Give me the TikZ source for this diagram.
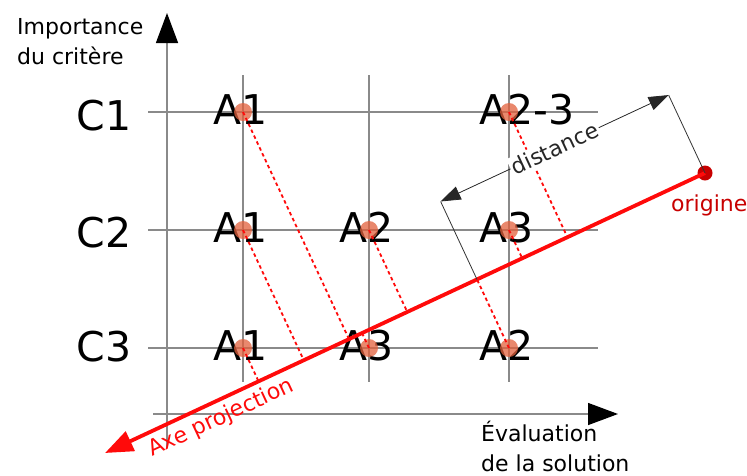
\documentclass[tikz,border=0pt]{standalone}
\usepackage{fontspec}
\setmainfont{DejaVu Sans}
\usetikzlibrary{arrows.meta, calc}
\definecolor{gridgray}{HTML}{8A8A8A}
\definecolor{axered}{HTML}{FF0A0A}
\definecolor{origred}{HTML}{C80000}
\definecolor{ptorange}{HTML}{E2603C}

\begin{document}
\begin{tikzpicture}[
    x=1pt, y=-1pt,
    big/.style={font=\fontsize{41}{41}\selectfont, inner sep=0pt},
    small/.style={font=\fontsize{22}{30}\selectfont, inner sep=0pt, align=left},
    gridline/.style={gridgray, line width=1.2pt},
    axarr/.style={gridgray, line width=1.4pt, -{Triangle[length=30pt, width=22pt, color=black]}},
    dot/.style={circle, fill=ptorange, fill opacity=0.75, minimum size=18pt, inner sep=0pt},
    odot/.style={circle, fill=origred, minimum size=15pt, inner sep=0pt},
    proj/.style={axered, line width=1.8pt, dash pattern=on 3.5pt off 3pt},
    projaxis/.style={axered, line width=3.8pt, -{Triangle[length=28pt, width=21pt]}},
    ext/.style={black!80, line width=0.8pt},
    dim/.style={black!85, line width=0.8pt, {Triangle[length=20pt, width=14pt]}-{Triangle[length=20pt, width=14pt]}}
  ]
    \useasboundingbox (0,0) rectangle (747,475);

    % grille
    \foreach \gy in {112,230,348}
      \draw[gridline] (148,\gy) -- (598,\gy);
    \foreach \gx in {243,369,509}
      \draw[gridline] (\gx,75) -- (\gx,382);

    % axes
    \coordinate (yfoot) at (167,448);
    \coordinate (ytip) at (167,13);
    \coordinate (xfoot) at (153,414);
    \coordinate (xtip) at (618,414);
    \draw[axarr] (yfoot) -- (ytip);
    \draw[axarr] (xfoot) -- (xtip);
    \node[small, anchor=base west] (ylbl) at (17,64) {Importance\\du critère};
    \node[small, anchor=base west] (xlbl) at (481,471) {Évaluation\\de la solution};

    % criteres
    \node[big, anchor=base] (c1) at (104,130) {C1};
    \node[big, anchor=base] (c2) at (104,247) {C2};
    \node[big, anchor=base] (c3) at (104,361) {C3};

    % alternatives
    \foreach \px/\py/\txt/\nm in {243/112/A1/c1a1, 509/112/A2-3/c1a23,
        243/230/A1/c2a1, 369/230/A2/c2a2, 509/230/A3/c2a3,
        243/348/A1/c3a1, 369/348/A3/c3a3, 509/348/A2/c3a2}
      \node[big, anchor=base west] (t\nm) at (\px-30,\py+12) {\txt};
    \foreach \px/\py/\nm in {243/112/c1a1, 509/112/c1a23,
        243/230/c2a1, 369/230/c2a2, 509/230/c2a3,
        243/348/c3a1, 369/348/c3a3, 509/348/c3a2}
      \node[dot] (\nm) at (\px,\py) {};

    % axe de projection
    \node[odot] (orig) at (705,173) {};
    \coordinate (tip) at (105,453);
    \foreach \nm in {c1a1, c1a23, c2a1, c2a2, c2a3, c3a1, c3a3, c3a2}
      \draw[proj] (\nm.center) -- ($(orig.center)!(\nm.center)!(tip)$);
    \draw[projaxis] (orig.center) -- (tip);
    \node[small, text=origred, anchor=base west] (olbl) at (671,211) {origine};
    \node[small, text=axered, rotate=25, anchor=base west] (axlbl) at (152,457) {Axe projection};

    % distance
    \coordinate (foot) at ($(orig.center)!(c3a2.center)!(tip)$);
    \coordinate (dO) at ($(orig.center)!86pt!-90:(tip)$);
    \coordinate (dF) at ($(foot)!86pt!90:(orig.center)$);
    \draw[ext] (orig.center) -- (dO);
    \draw[ext] (foot) -- (dF);
    \draw[dim] (dO) -- (dF) node[midway, sloped, small, fill=white, inner sep=2pt] (dlbl) {distance};
  \end{tikzpicture}
\end{document}
